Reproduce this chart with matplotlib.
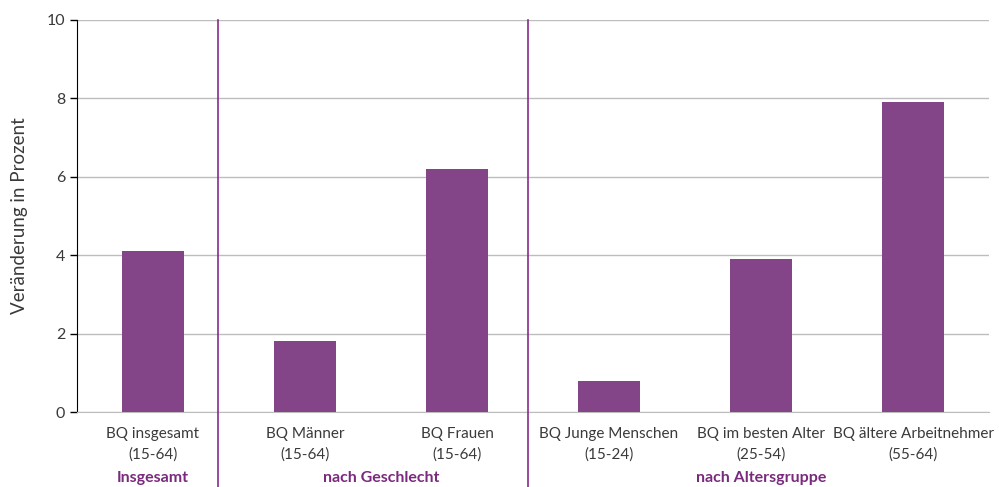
import matplotlib.pyplot as plt
import numpy as np

plt.rcParams['font.family'] = ['Lato', 'DejaVu Sans']

categories = [
    "BQ insgesamt\n(15-64)",
    "BQ Männer\n(15-64)",
    "BQ Frauen\n(15-64)",
    "BQ Junge Menschen\n(15-24)",
    "BQ im besten Alter\n(25-54)",
    "BQ ältere Arbeitnehmer\n(55-64)",
]
values = [4.1, 1.8, 6.2, 0.8, 3.9, 7.9]

groups = ["Insgesamt", "nach Geschlecht", "nach Altersgruppe"]
group_centers = [0, 1.5, 4]
separators = [0.43, 2.47]

bar_color = "#834587"
group_color = "#7a2a7d"
text_color = "#3a3a3a"

fig = plt.figure(figsize=(9.99, 4.87), dpi=100)
ax = fig.add_axes([0.077, 0.154, 0.913, 0.805])

x = np.arange(len(categories))
ax.bar(x, values, width=0.41, color=bar_color, zorder=3)

ax.set_xlim(-0.5, len(categories) - 0.5)
ax.set_ylim(0, 10)
ax.set_yticks(np.arange(0, 11, 2))
ax.set_xticks(x)
ax.set_xticklabels(categories, fontsize=11, color=text_color, linespacing=1.5)
ax.tick_params(axis='x', length=0, pad=11)
ax.tick_params(axis='y', labelsize=11.5, labelcolor=text_color, length=5,
               width=1, color="black", direction="out")

ax.grid(axis='y', color="#bdbdbd", linewidth=1, zorder=0)
for side in ["top", "right"]:
    ax.spines[side].set_visible(False)
ax.spines["bottom"].set_color("#bdbdbd")
ax.spines["left"].set_color("black")

ax.set_ylabel("Veränderung in Prozent", fontsize=13.5, color=text_color, labelpad=13)

# group separators run from the top of the plot down through the label area
for s in separators:
    ax.plot([s, s], [10, -1.92], color="#8a2a8d", linewidth=1.2,
            clip_on=False, zorder=4)

for name, c in zip(groups, group_centers):
    ax.text(c, -1.68, name, ha="center", va="center", fontsize=11.5,
            fontweight="bold", color=group_color)

fig.savefig("out.png", dpi=100)
